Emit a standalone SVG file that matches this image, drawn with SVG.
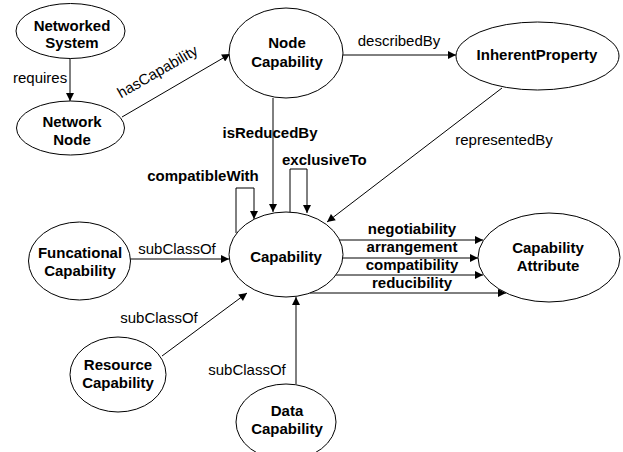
<svg xmlns="http://www.w3.org/2000/svg" width="623" height="452" viewBox="0 0 623 452">
  <style>
    .node { fill: #ffffff; stroke: #000000; stroke-width: 1; }
    .edge { fill: none; stroke: #000000; stroke-width: 1; }
    .title { font-family: "Liberation Sans", Arial, sans-serif; font-size: 15px; font-weight: bold; text-anchor: middle; fill: #000000; }
    .lbl { font-family: "Liberation Sans", Arial, sans-serif; font-size: 15px; fill: #000000; }
    .blbl { font-family: "Liberation Sans", Arial, sans-serif; font-size: 15px; font-weight: bold; fill: #000000; }
  </style>
  <defs>
    <marker id="arrow" viewBox="0 0 10 10" refX="10" refY="5" markerWidth="9" markerHeight="8" markerUnits="userSpaceOnUse" orient="auto">
      <path d="M0,0 L10,5 L0,10 z" fill="#000000"/>
    </marker>
  </defs>

  <rect width="623" height="452" fill="#ffffff"/>

  <g id="connectors">
    <!-- requires -->
    <line class="edge" x1="70" y1="58" x2="70" y2="101" marker-end="url(#arrow)"/>
    <text class="lbl" x="13" y="83">requires</text>
    <!-- hasCapability -->
    <line class="edge" x1="122" y1="117" x2="230" y2="54" marker-end="url(#arrow)"/>
    <text class="lbl" text-anchor="middle" transform="translate(160,76) rotate(-30)">hasCapability</text>
    <!-- describedBy -->
    <line class="edge" x1="343" y1="55" x2="456" y2="55" marker-end="url(#arrow)"/>
    <text class="lbl" x="399" y="46" text-anchor="middle">describedBy</text>
    <!-- representedBy -->
    <line class="edge" x1="502" y1="88" x2="327" y2="222" marker-end="url(#arrow)"/>
    <text class="lbl" x="504" y="145" text-anchor="middle">representedBy</text>
    <!-- isReducedBy -->
    <line class="edge" x1="273" y1="98" x2="273" y2="212" marker-end="url(#arrow)"/>
    <text class="blbl" x="270" y="138" text-anchor="middle">isReducedBy</text>
    <!-- exclusiveTo (self loop) -->
    <polyline class="edge" points="290,212 290,169 307,169 307,213" marker-end="url(#arrow)"/>
    <text class="blbl" x="282" y="165">exclusiveTo</text>
    <!-- compatibleWith (self loop) -->
    <polyline class="edge" points="236,233 236,188 254,188 254,219" marker-end="url(#arrow)"/>
    <text class="blbl" x="203" y="181" text-anchor="middle">compatibleWith</text>
    <!-- subClassOf from Funcational Capability -->
    <line class="edge" x1="130" y1="259" x2="229" y2="259" marker-end="url(#arrow)"/>
    <text class="lbl" x="177" y="254" text-anchor="middle">subClassOf</text>
    <!-- subClassOf from Resource Capability -->
    <line class="edge" x1="162" y1="356" x2="247" y2="293" marker-end="url(#arrow)"/>
    <text class="lbl" x="159" y="323" text-anchor="middle">subClassOf</text>
    <!-- subClassOf from Data Capability -->
    <line class="edge" x1="296" y1="384" x2="296" y2="297" marker-end="url(#arrow)"/>
    <text class="lbl" x="247" y="375" text-anchor="middle">subClassOf</text>
    <!-- capability attributes -->
    <line class="edge" x1="335" y1="240" x2="483" y2="240" marker-end="url(#arrow)"/>
    <text class="blbl" x="412" y="234" text-anchor="middle">negotiability</text>
    <line class="edge" x1="340" y1="258" x2="478" y2="258" marker-end="url(#arrow)"/>
    <text class="blbl" x="412" y="252" text-anchor="middle">arrangement</text>
    <line class="edge" x1="335" y1="275" x2="483" y2="275" marker-end="url(#arrow)"/>
    <text class="blbl" x="412" y="270" text-anchor="middle">compatibility</text>
    <line class="edge" x1="310" y1="293" x2="506" y2="293" marker-end="url(#arrow)"/>
    <text class="blbl" x="412" y="288" text-anchor="middle">reducibility</text>
  </g>

  <g id="networked-system">
    <ellipse class="node" cx="70.5" cy="31" rx="54.5" ry="27.5"/>
    <text class="title" x="72" y="31">Networked</text>
    <text class="title" x="72" y="48">System</text>
  </g>
  <g id="network-node">
    <ellipse class="node" cx="70.5" cy="128" rx="54" ry="27"/>
    <text class="title" x="72" y="127">Network</text>
    <text class="title" x="72" y="145">Node</text>
  </g>
  <g id="node-capability">
    <ellipse class="node" cx="286" cy="53" rx="57" ry="45"/>
    <text class="title" x="287" y="48">Node</text>
    <text class="title" x="287" y="67">Capability</text>
  </g>
  <g id="inherent-property">
    <ellipse class="node" cx="537.5" cy="56" rx="81.5" ry="34"/>
    <text class="title" x="537" y="60">InherentProperty</text>
  </g>
  <g id="capability">
    <ellipse class="node" cx="286" cy="254.5" rx="57" ry="42.5"/>
    <text class="title" x="286" y="262">Capability</text>
  </g>
  <g id="capability-attribute">
    <ellipse class="node" cx="549" cy="257.5" rx="71" ry="44.5"/>
    <text class="title" x="548" y="253">Capability</text>
    <text class="title" x="548" y="271">Attribute</text>
  </g>
  <g id="funcational-capability">
    <ellipse class="node" cx="79.5" cy="261" rx="51" ry="39"/>
    <text class="title" x="80" y="258">Funcational</text>
    <text class="title" x="80" y="276">Capability</text>
  </g>
  <g id="resource-capability">
    <ellipse class="node" cx="118" cy="374.5" rx="48" ry="37.5"/>
    <text class="title" x="118" y="370">Resource</text>
    <text class="title" x="118" y="388">Capability</text>
  </g>
  <g id="data-capability">
    <ellipse class="node" cx="286" cy="422" rx="50" ry="38"/>
    <text class="title" x="287" y="416">Data</text>
    <text class="title" x="287" y="434">Capability</text>
  </g>
</svg>
